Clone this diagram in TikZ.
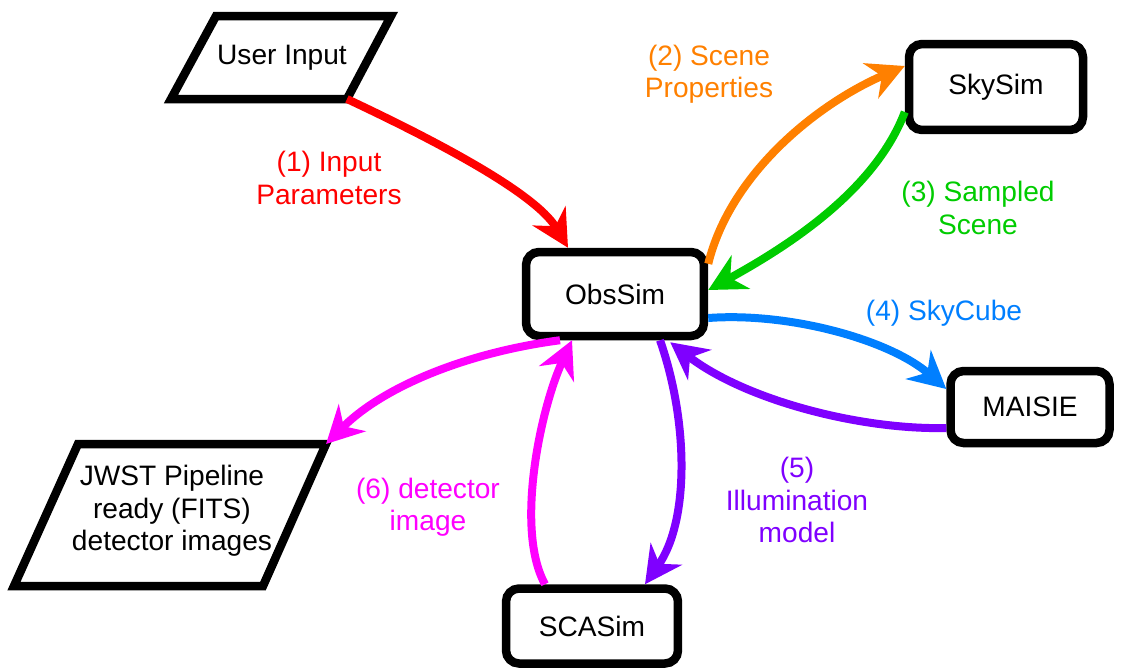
\documentclass[tikz,border=0pt]{standalone}
\usepackage{fontspec}
\setmainfont{Liberation Sans}
\usetikzlibrary{arrows.meta,calc}
\definecolor{cred}{HTML}{FF0000}
\definecolor{corange}{HTML}{FF8000}
\definecolor{cgreen}{HTML}{00CC00}
\definecolor{cblue}{HTML}{007FFF}
\definecolor{cpurple}{HTML}{7F00FF}
\definecolor{cmagenta}{HTML}{FF00FF}
\begin{document}
\begin{tikzpicture}[x={(0.02cm,0)},y={(0,-0.02cm)},
  txt/.style={align=center,font=\fontsize{16}{18.5}\selectfont},
  box/.style={draw,line width=0.17cm,rounded corners=0.26cm,txt,inner sep=0pt},
  para/.style={draw,line width=0.17cm,line join=miter},
  conn/.style={line width=0.16cm,-{Stealth[length=0.74cm,width=0.76cm,inset=0.24cm]}},
  lbl/.style={txt}]
\useasboundingbox (0,0) rectangle (1121,670);
% parallelograms
\draw[para] (216,16) -- (391,16) -- (347,99) -- (171,99) -- cycle;
\coordinate (uBR) at (347,99);
\node[txt] (user) at (282,58) {User Input};
\draw[para] (78,444) -- (326,444) -- (263,586) -- (14,586) -- cycle;
\coordinate (jTR) at (326,444);
\node[txt] (jwst) at (172,511) {JWST Pipeline\\ready (FITS)\\detector images};
% boxes
\node[box,minimum width=3.56cm,minimum height=1.68cm] (obs) at (615,294) {ObsSim};
\node[box,minimum width=3.48cm,minimum height=1.72cm] (sky) at (996,87) {SkySim};
\node[box,minimum width=3.18cm,minimum height=1.44cm] (mai) at (1030,407) {MAISIE};
\node[box,minimum width=3.44cm,minimum height=1.5cm] (sca) at (592,626) {SCASim};
% connectors
\draw[conn,cred] (uBR) .. controls (430,138) and (535,192) .. ($(obs.north)+(-47,0)$);
\draw[conn,corange] ($(obs.north east)+(0,16)$) .. controls (730,175) and (815,105) .. ($(sky.west)+(0,-21)$);
\draw[conn,cgreen] ($(sky.west)+(0,25)$) .. controls (875,190) and (790,245) .. ($(obs.east)+(0,-4)$);
\draw[conn,cblue] ($(obs.east)+(0,24)$) .. controls (790,312) and (890,340) .. ($(mai.west)+(0,-18)$);
\draw[conn,cpurple] ($(mai.west)+(0,21)$) .. controls (860,430) and (745,400) .. ($(obs.south east)+(-38,2)$);
\draw[conn,cpurple] ($(obs.south)+(45,0)$) .. controls (688,420) and (690,520) .. ($(sca.north)+(53,0)$);
\draw[conn,cmagenta] ($(sca.north)+(-47,0)$) .. controls (515,530) and (540,410) .. ($(obs.south)+(-43,0)$);
\draw[conn,cmagenta] ($(obs.south)+(-55,0)$) .. controls (470,352) and (385,385) .. (jTR);
% labels
\node[lbl,text=cred] (l1) at (329,178) {(1) Input\\Parameters};
\node[lbl,text=corange] (l2) at (709,74) {(2) Scene\\Properties};
\node[lbl,text=cgreen] (l3) at (978,208) {(3) Sampled\\Scene};
\node[lbl,text=cblue] (l4) at (944,313) {(4) SkyCube};
\node[lbl,text=cpurple] (l5) at (797,500) {(5)\\Illumination\\model};
\node[lbl,text=cmagenta] (l6) at (428,507) {(6) detector\\image};
\end{tikzpicture}
\end{document}
